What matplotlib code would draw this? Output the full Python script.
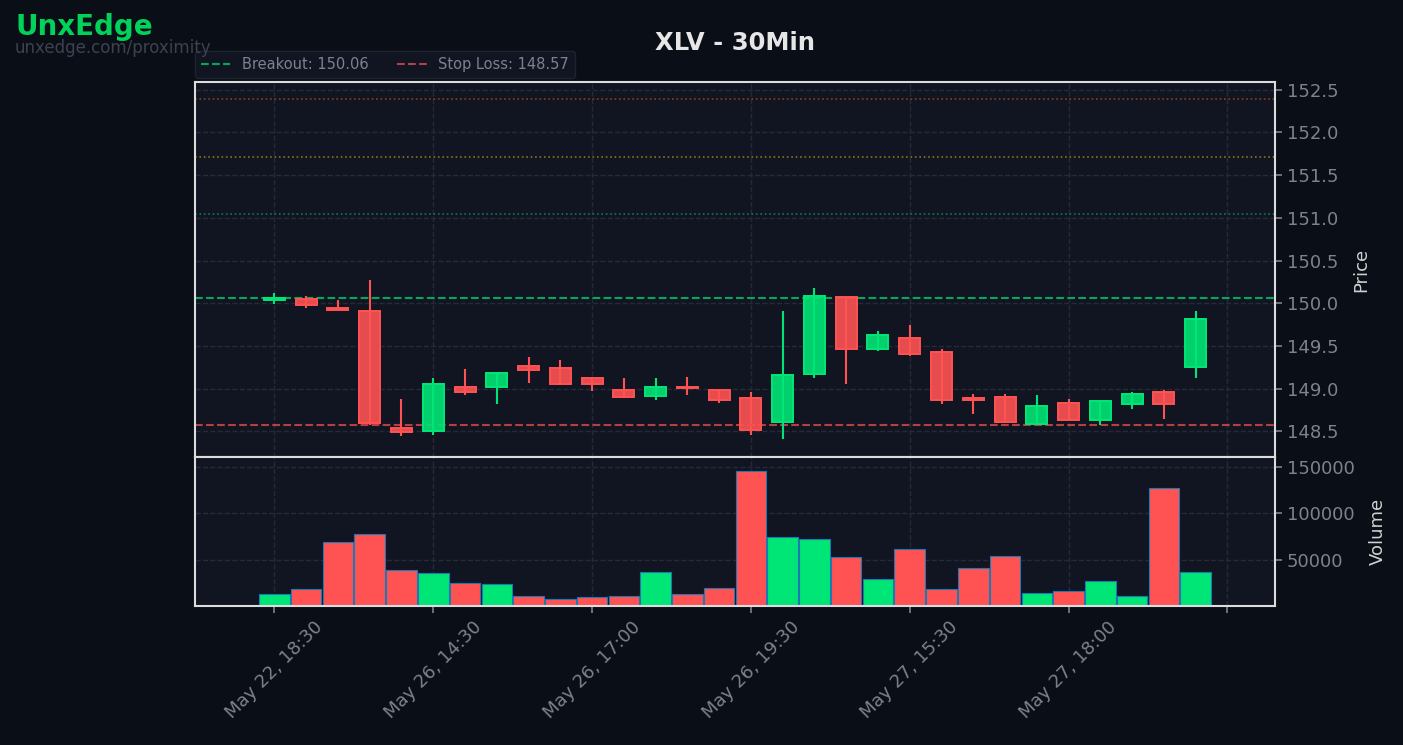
#!/usr/bin/env python3

import numpy as np
import matplotlib
matplotlib.use("Agg")
import matplotlib.pyplot as plt
from matplotlib.patches import Rectangle
from matplotlib.ticker import FuncFormatter

# 30 min bars
opens = [150.04, 150.05, 149.94, 149.91, 148.54, 148.50, 149.02, 149.02, 149.26, 149.24,
         149.12, 148.98, 148.91, 149.02, 148.98, 148.89, 148.61, 149.17, 150.07, 149.46,
         149.59, 149.43, 148.89, 148.90, 148.59, 148.83, 148.63, 148.82, 148.96, 149.25]
highs = [150.12, 150.09, 150.04, 150.27, 148.88, 149.12, 149.23, 149.20, 149.37, 149.33,
         149.14, 149.12, 149.13, 149.14, 149.00, 148.96, 149.91, 150.18, 150.07, 149.68,
         149.74, 149.46, 148.94, 148.94, 148.92, 148.88, 148.87, 148.96, 148.99, 149.91]
lows = [149.99, 149.95, 149.91, 148.58, 148.45, 148.46, 148.92, 148.82, 149.07, 149.05,
        148.97, 148.89, 148.87, 148.93, 148.83, 148.46, 148.41, 149.13, 149.05, 149.44,
        149.38, 148.82, 148.70, 148.60, 148.58, 148.63, 148.57, 148.76, 148.64, 149.13]
closes = [150.06, 149.98, 149.92, 148.60, 148.49, 149.06, 148.96, 149.18, 149.22, 149.05,
          149.05, 148.90, 149.02, 149.01, 148.87, 148.52, 149.16, 150.08, 149.47, 149.63,
          149.41, 148.87, 148.87, 148.61, 148.80, 148.63, 148.85, 148.94, 148.82, 149.81]
volumes = [13250, 17840, 68730, 77210, 39050, 35870, 25270, 24200, 10420, 7240,
           9360, 10420, 36930, 13250, 18900, 146110, 74730, 72610, 52470, 29150,
           60950, 18550, 40810, 53530, 14310, 16430, 27030, 11130, 127030, 36930]

tick_pos = [0, 5, 10, 15, 20, 25, 30]
tick_labels = ["May 22, 18:30", "May 26, 14:30", "May 26, 17:00", "May 26, 19:30",
               "May 27, 15:30", "May 27, 18:00", ""]

breakout = 150.06
stop_loss = 148.57
targets = [151.04, 151.71, 152.39]
target_colors = ["#00e676", "#ffd600", "#ff6d00"]

UP = "#00e676"
DOWN = "#ff5252"
FIG_BG = "#0a0e17"
AX_BG = "#111522"
TXT = "#7d828e"
GRID = "#262a36"
SPINE = "#dcdcdc"

fig = plt.figure(figsize=(14.03, 7.45), dpi=100, facecolor=FIG_BG)
ax = fig.add_axes([0.139, 0.3866, 0.7698, 0.5033])
axv = fig.add_axes([0.139, 0.1866, 0.7698, 0.2], sharex=ax)

x = np.arange(len(opens))
w = 0.66
for i in x:
    o, h, l, c = opens[i], highs[i], lows[i], closes[i]
    col = UP if c >= o else DOWN
    ax.vlines(i, l, h, color=col, linewidth=1.5, zorder=2)
    lo = min(o, c)
    ht = max(abs(c - o), 0.01)
    ax.add_patch(Rectangle((i - w / 2, lo), w, ht, facecolor=col, alpha=0.9,
                           edgecolor=col, linewidth=1.3, zorder=3))
    ax.add_patch(Rectangle((i - w / 2, lo), w, ht, facecolor="none",
                           edgecolor=col, linewidth=1.3, zorder=4))

ax.axhline(breakout, color=UP, linestyle="--", linewidth=1.5, alpha=0.7,
           label=f"Breakout: {breakout:.2f}", zorder=1)
ax.axhline(stop_loss, color=DOWN, linestyle="--", linewidth=1.5, alpha=0.7,
           label=f"Stop Loss: {stop_loss:.2f}", zorder=1)
for lvl, tc in zip(targets, target_colors):
    ax.axhline(lvl, color=tc, linestyle=":", linewidth=1.2, alpha=0.5, zorder=1)

vcols = [UP if closes[i] >= opens[i] else DOWN for i in x]
axv.bar(x, volumes, width=0.96, color=vcols, edgecolor="#1f77b4", linewidth=0.8)

for a in (ax, axv):
    a.set_facecolor(AX_BG)
    a.yaxis.tick_right()
    a.yaxis.set_label_position("right")
    a.grid(True, color=GRID, linestyle="--", linewidth=1)
    a.set_axisbelow(True)
    for s in a.spines.values():
        s.set_color(SPINE)
        s.set_linewidth(1.5)
    a.tick_params(colors=TXT, labelsize=13, length=5, width=1.2)

ax.set_xlim(-2.5, 31.5)
ax.set_ylim(148.20, 152.59)
ax.set_yticks(np.arange(148.5, 152.51, 0.5))
ax.yaxis.set_major_formatter(FuncFormatter(lambda v, p: f"{v:.1f}"))
ax.tick_params(axis="x", labelbottom=False)
ax.set_ylabel("Price", color="#d0d0d0", fontsize=13, labelpad=10)

axv.set_ylim(0, max(volumes) * 1.1)
axv.set_yticks([50000, 100000, 150000])
axv.yaxis.set_major_formatter(FuncFormatter(lambda v, p: f"{int(v)}"))
axv.set_ylabel("Volume", color="#d0d0d0", fontsize=13, labelpad=10)
axv.set_xticks(tick_pos)
axv.set_xticklabels(tick_labels, rotation=45)

leg = ax.legend(loc="lower left", bbox_to_anchor=(0.0, 1.012), borderaxespad=0,
                ncol=2, fontsize=10.5, frameon=True, facecolor=AX_BG,
                edgecolor="#1f2330", labelcolor=TXT, columnspacing=2.0)
leg.get_frame().set_alpha(1.0)

fig.text(0.524, 0.942, "XLV - 30Min", color="#e6e6e6", fontsize=17.5,
         fontweight="bold", ha="center", va="center")
fig.text(0.011, 0.964, "UnxEdge", color="#00d25a", fontsize=20,
         fontweight="bold", ha="left", va="center")
fig.text(0.0105, 0.936, "unxedge.com/proximity", color="#3c4250", fontsize=12,
         ha="left", va="center")

fig.savefig("out.png", dpi=100, facecolor=FIG_BG)
